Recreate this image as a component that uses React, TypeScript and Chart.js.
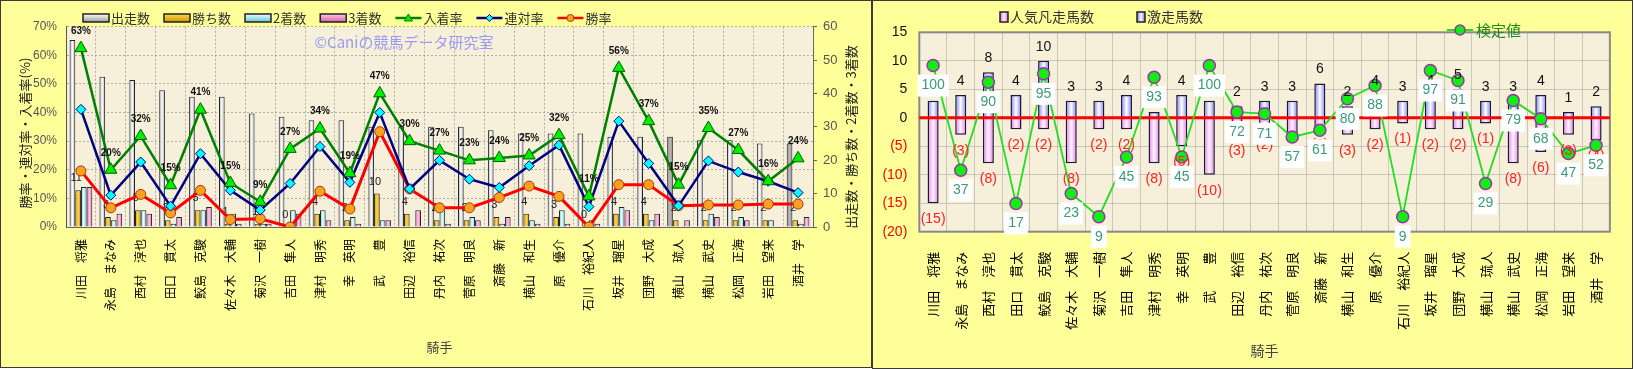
import React, { useEffect, useRef } from 'react';
import { Chart, registerables } from 'chart.js';
Chart.register(...registerables);

const JP = "'Noto Sans CJK JP', 'Noto Sans', sans-serif";
const NUM = "'Liberation Sans', Arial, sans-serif";

const jockeys = [
  '川田　将雅', '永島　まなみ', '西村　淳也', '田口　貫太', '鮫島　克駿', '佐々木　大輔', '菊沢　一樹',
  '吉田　隼人', '津村　明秀', '幸　英明', '武　　豊', '田辺　裕信', '丹内　祐次', '菅原　明良',
  '斎藤　新', '横山　和生', '原　優介', '石川　裕紀人', '坂井　瑠星', '団野　大成', '横山　琉人',
  '横山　武史', '松岡　正海', '岩田　望来', '酒井　学',
];

// left chart: counts
const starts = [56, 45, 44, 41, 39, 39, 34, 33, 32, 32, 30, 30, 30, 30, 29, 28, 28, 28, 27, 27, 27, 26, 26, 25, 25];
const wins = [11, 3, 5, 2, 5, 1, 1, 0, 4, 2, 10, 4, 2, 2, 3, 4, 3, 0, 4, 4, 2, 2, 2, 2, 2];
const seconds = [12, 2, 5, 1, 5, 4, 1, 5, 5, 3, 2, 0, 5, 3, 1, 2, 5, 2, 6, 2, 0, 4, 3, 2, 1];
const thirds = [12, 4, 4, 3, 6, 1, 1, 4, 2, 1, 2, 5, 1, 2, 3, 1, 1, 1, 5, 4, 2, 3, 2, 0, 3];
// left chart: rates (%)
const placeRate = [62.5, 20.0, 31.8, 14.6, 41.0, 15.4, 8.8, 27.3, 34.4, 18.8, 46.7, 30.0, 26.7, 23.3, 24.1, 25.0, 32.1, 10.7, 55.6, 37.0, 14.8, 34.6, 26.9, 16.0, 24.0];
const rentaiRate = [41.1, 11.1, 22.7, 7.3, 25.6, 12.8, 5.9, 15.2, 28.1, 15.6, 40.0, 13.3, 23.3, 16.7, 13.8, 21.4, 28.6, 7.1, 37.0, 22.2, 7.4, 23.1, 19.2, 16.0, 12.0];
const winRate = [19.6, 6.7, 11.4, 4.9, 12.8, 2.6, 2.9, 0.0, 12.5, 6.3, 33.3, 13.3, 6.7, 6.7, 10.3, 14.3, 10.7, 0.0, 14.8, 14.8, 7.4, 7.7, 7.7, 8.0, 8.0];
const placeLabels = ['63%', '20%', '32%', '15%', '41%', '15%', '9%', '27%', '34%', '19%', '47%', '30%', '27%', '23%', '24%', '25%', '32%', '11%', '56%', '37%', '15%', '35%', '27%', '16%', '24%'];
const grayStartIdx = [20, 24];

// right chart
const popularFail = [-15, -3, -8, -2, -2, -8, -2, -2, -8, -5, -10, -3, -2, -4, -2, -3, -2, -1, -2, -2, -1, -8, -6, -3, -4];
const gekisou = [3, 4, 8, 4, 10, 3, 3, 4, 1, 4, 3, 2, 3, 3, 6, 2, 4, 3, 4, 5, 3, 3, 4, 1, 2];
const kentei = [100, 37, 90, 17, 95, 23, 9, 45, 93, 45, 100, 72, 71, 57, 61, 80, 88, 9, 97, 91, 29, 79, 68, 47, 52];

function hGrad(ctx: CanvasRenderingContext2D, x0: number, w: number, edge: string, mid: string) {
  const g = ctx.createLinearGradient(x0, 0, x0 + w, 0);
  g.addColorStop(0, edge);
  g.addColorStop(0.5, mid);
  g.addColorStop(1, edge);
  return g;
}

const CAT_PCT_L = 0.76;

function leftBarBg(k: number, edgeFn: (i: number) => string, midFn: (i: number) => string) {
  return (c: any) => {
    if (c.type !== 'data') return edgeFn(0);
    const ch = c.chart;
    const xs = ch.scales && ch.scales.x;
    const i = c.dataIndex;
    if (!xs || !ch.chartArea || !isFinite(xs.width)) return edgeFn(i);
    const cw = xs.width / jockeys.length;
    const center = xs.getPixelForValue(i);
    const group = cw * CAT_PCT_L;
    const bw = group / 4;
    const x0 = center - group / 2 + k * bw;
    return hGrad(ch.ctx, x0, bw, edgeFn(i), midFn(i));
  };
}

function drawRotText(ctx: CanvasRenderingContext2D, text: string, x: number, y: number, font: string, color: string) {
  ctx.save();
  ctx.translate(x, y);
  ctx.rotate(-Math.PI / 2);
  ctx.font = font;
  ctx.fillStyle = color;
  ctx.textAlign = 'center';
  ctx.textBaseline = 'middle';
  ctx.fillText(text, 0, 0);
  ctx.restore();
}

function LeftChart() {
  const ref = useRef<HTMLCanvasElement>(null);
  useEffect(() => {
    const canvas = ref.current!;
    const legendItems = [
      { t: '出走数', kind: 'bar', edge: '#9a9a9a', mid: '#ffffff' },
      { t: '勝ち数', kind: 'bar', edge: '#c99400', mid: '#ffd84a' },
      { t: '2着数', kind: 'bar', edge: '#6cc4d4', mid: '#e8ffff' },
      { t: '3着数', kind: 'bar', edge: '#d860a8', mid: '#ffc8e8' },
      { t: '入着率', kind: 'line', color: '#008000', pt: 'tri', fill: '#00ee00' },
      { t: '連対率', kind: 'line', color: '#000080', pt: 'dia', fill: '#00ffff' },
      { t: '勝率', kind: 'line', color: '#ff0000', pt: 'cir', fill: '#ffa020' },
    ];
    const plugin = {
      id: 'leftDeco',
      beforeDraw(chart: any) {
        const { ctx, chartArea: a } = chart;
        ctx.save();
        ctx.fillStyle = '#F6EFDA';
        ctx.fillRect(a.left, a.top, a.width, a.height);
        ctx.restore();
      },
      beforeDatasetsDraw(chart: any) {
        const { ctx } = chart;
        ctx.save();
        ctx.font = `15px ${JP}`;
        ctx.fillStyle = '#9a9cf4';
        ctx.textAlign = 'center';
        ctx.textBaseline = 'middle';
        ctx.fillText('©Caniの競馬データ研究室', 403, 41);
        ctx.restore();
      },
      afterDatasetDraw(chart: any, args: any) {
        if (args.index !== 0) return;
        const { ctx } = chart;
        const meta = chart.getDatasetMeta(1);
        ctx.save();
        ctx.font = `11px ${NUM}`;
        ctx.fillStyle = '#222';
        ctx.textAlign = 'center';
        ctx.textBaseline = 'middle';
        meta.data.forEach((el: any, i: number) => {
          ctx.fillText(String(wins[i]), el.x - 2, el.y - 12);
        });
        ctx.restore();
      },
      afterDatasetsDraw(chart: any) {
        const { ctx } = chart;
        const meta = chart.getDatasetMeta(4);
        ctx.save();
        ctx.font = `bold 10px ${NUM}`;
        ctx.fillStyle = '#111';
        ctx.textAlign = 'center';
        ctx.textBaseline = 'middle';
        meta.data.forEach((el: any, i: number) => {
          ctx.fillText(placeLabels[i], el.x, el.y - 17);
        });
        ctx.restore();
      },
      afterDraw(chart: any) {
        const { ctx } = chart;
        drawRotText(ctx, '勝率・連対率・入着率(%)', 24, 132, `13px ${JP}`, '#222');
        drawRotText(ctx, '出走数・勝ち数・2着数・3着数', 850, 136, `13px ${JP}`, '#222');
        ctx.save();
        ctx.font = `13px ${JP}`;
        ctx.textBaseline = 'middle';
        ctx.textAlign = 'left';
        let x = 82;
        const y = 17;
        legendItems.forEach((it: any) => {
          if (it.kind === 'bar') {
            const g = ctx.createLinearGradient(0, y - 4, 0, y + 4);
            g.addColorStop(0, it.mid);
            g.addColorStop(1, it.edge);
            ctx.fillStyle = g;
            ctx.fillRect(x, y - 4, 26, 8);
            ctx.strokeStyle = '#222';
            ctx.lineWidth = 1.5;
            ctx.strokeRect(x, y - 4, 26, 8);
          } else {
            ctx.strokeStyle = it.color;
            ctx.lineWidth = 2.5;
            ctx.beginPath();
            ctx.moveTo(x, y);
            ctx.lineTo(x + 26, y);
            ctx.stroke();
            ctx.fillStyle = it.fill;
            ctx.lineWidth = 1;
            ctx.beginPath();
            const cx = x + 13;
            if (it.pt === 'tri') {
              ctx.moveTo(cx, y - 4); ctx.lineTo(cx + 4, y + 3); ctx.lineTo(cx - 4, y + 3); ctx.closePath();
            } else if (it.pt === 'dia') {
              ctx.moveTo(cx, y - 3.5); ctx.lineTo(cx + 3.5, y); ctx.lineTo(cx, y + 3.5); ctx.lineTo(cx - 3.5, y); ctx.closePath();
            } else {
              ctx.arc(cx, y, 3.5, 0, Math.PI * 2);
            }
            ctx.fill();
            ctx.strokeStyle = it.pt === 'cir' ? '#a04000' : it.color;
            ctx.stroke();
          }
          ctx.fillStyle = '#333';
          ctx.fillText(it.t, x + 28, y);
          x += 28 + ctx.measureText(it.t).width + 14;
        });
        ctx.restore();
      },
    };

    const chart = new Chart(canvas, {
      type: 'bar',
      data: {
        labels: jockeys,
        datasets: [
          {
            type: 'bar', label: '出走数', data: starts, yAxisID: 'y1', order: 1,
            backgroundColor: leftBarBg(0, (i) => (grayStartIdx.includes(i) ? '#7a7a7a' : '#a0a0a0'), (i) => (grayStartIdx.includes(i) ? '#bdbdbd' : '#ffffff')),
            borderColor: '#222', borderWidth: 1,
            categoryPercentage: CAT_PCT_L, barPercentage: 1,
          },
          {
            type: 'bar', label: '勝ち数', data: wins, yAxisID: 'y1', order: 1,
            backgroundColor: leftBarBg(1, () => '#c99400', () => '#ffd84a'),
            borderColor: '#222', borderWidth: 1,
            categoryPercentage: CAT_PCT_L, barPercentage: 1,
          },
          {
            type: 'bar', label: '2着数', data: seconds, yAxisID: 'y1', order: 1,
            backgroundColor: leftBarBg(2, () => '#6cc4d4', () => '#e8ffff'),
            borderColor: '#222', borderWidth: 1,
            categoryPercentage: CAT_PCT_L, barPercentage: 1,
          },
          {
            type: 'bar', label: '3着数', data: thirds, yAxisID: 'y1', order: 1,
            backgroundColor: leftBarBg(3, () => '#d860a8', () => '#ffc8e8'),
            borderColor: '#222', borderWidth: 1,
            categoryPercentage: CAT_PCT_L, barPercentage: 1,
          },
          {
            type: 'line', label: '入着率', data: placeRate, yAxisID: 'y', order: 0,
            borderColor: '#008000', borderWidth: 2.5, tension: 0,
            pointStyle: 'triangle', pointRadius: 7, pointBackgroundColor: '#00ee00', pointBorderColor: '#006000', pointBorderWidth: 1,
          },
          {
            type: 'line', label: '連対率', data: rentaiRate, yAxisID: 'y', order: 0,
            borderColor: '#000080', borderWidth: 2.5, tension: 0,
            pointStyle: 'rectRot', pointRadius: 5, pointBackgroundColor: '#00ffff', pointBorderColor: '#000080', pointBorderWidth: 1,
          },
          {
            type: 'line', label: '勝率', data: winRate, yAxisID: 'y', order: 0,
            borderColor: '#ff0000', borderWidth: 3, tension: 0,
            pointStyle: 'circle', pointRadius: 5, pointBackgroundColor: '#ffa020', pointBorderColor: '#a04000', pointBorderWidth: 1,
          },
        ],
      } as any,
      options: {
        responsive: false,
        animation: false,
        layout: { padding: { top: 25.7, left: 0, right: 0, bottom: 0 } },
        plugins: { legend: { display: false }, tooltip: { enabled: false } },
        scales: {
          x: {
            grid: { color: 'rgba(120,120,120,0.55)', drawTicks: false },
            border: { display: true, color: '#666', dash: [2, 2] } as any,
            ticks: { autoSkip: false, minRotation: 90, maxRotation: 90, padding: 12, color: '#000', font: { family: JP, size: 12 } },
            title: { display: true, text: '騎手', color: '#444', font: { family: JP, size: 13 }, padding: { top: 0, bottom: 12 } },
            afterFit: (s: any) => { s.height = 140; },
          },
          y: {
            position: 'left', min: 0, max: 70,
            grid: { color: 'rgba(120,120,120,0.55)', drawTicks: false },
            border: { display: true, color: '#555', dash: [2, 2] } as any,
            ticks: { stepSize: 10, padding: 9, color: '#555', font: { family: NUM, size: 12 }, callback: (v: any) => `${v}%` },
            title: { display: false },
            afterFit: (s: any) => { s.width = 65; },
          },
          y1: {
            position: 'right', min: 0, max: 60,
            grid: { drawOnChartArea: false, drawTicks: true, tickLength: 4, color: '#666' },
            border: { display: true, color: '#666' },
            ticks: { stepSize: 10, padding: 6, color: '#555', font: { family: NUM, size: 13 } },
            title: { display: false },
            afterFit: (s: any) => { s.width = 58; },
          },
        },
      } as any,
      plugins: [plugin as any],
    });
    return () => chart.destroy();
  }, []);
  return <canvas ref={ref} width={870} height={366} style={{ display: 'block', width: 870, height: 366 }} />;
}

function rightBarBg(edge: string, mid: string) {
  return (c: any) => {
    if (c.type !== 'data') return edge;
    const ch = c.chart;
    const xs = ch.scales && ch.scales.x;
    if (!xs || !ch.chartArea || !isFinite(xs.width)) return edge;
    const cw = xs.width / jockeys.length;
    const bw = cw * 0.8 * 0.5;
    const x0 = xs.getPixelForValue(c.dataIndex) - bw / 2;
    return hGrad(ch.ctx, x0, bw, edge, mid);
  };
}

function RightChart() {
  const ref = useRef<HTMLCanvasElement>(null);
  useEffect(() => {
    const canvas = ref.current!;
    const plugin = {
      id: 'rightDeco',
      beforeDraw(chart: any) {
        const { ctx, chartArea: a } = chart;
        ctx.save();
        ctx.fillStyle = '#F6EFDA';
        ctx.fillRect(a.left, a.top, a.width, a.height);
        ctx.restore();
      },
      beforeDatasetsDraw(chart: any) {
        const { ctx, chartArea: a } = chart;
        ctx.save();
        ctx.strokeStyle = '#8a8a8a';
        ctx.lineWidth = 2;
        ctx.strokeRect(a.left, a.top, a.width, a.height);
        ctx.restore();
      },
      beforeDatasetDraw(chart: any, args: any) {
        if (args.index !== 2) return;
        const { ctx, chartArea: a, scales } = chart;
        const y0 = scales.y.getPixelForValue(0);
        ctx.save();
        ctx.strokeStyle = '#ff0000';
        ctx.lineWidth = 3;
        ctx.beginPath();
        ctx.moveTo(a.left, y0);
        ctx.lineTo(a.right, y0);
        ctx.stroke();
        ctx.restore();
      },
      afterDatasetsDraw(chart: any) {
        const { ctx } = chart;
        const mPos = chart.getDatasetMeta(0);
        const mNeg = chart.getDatasetMeta(1);
        const mLine = chart.getDatasetMeta(2);
        ctx.save();
        ctx.font = `14px ${NUM}`;
        ctx.textAlign = 'center';
        ctx.textBaseline = 'middle';
        ctx.fillStyle = '#111';
        mPos.data.forEach((el: any, i: number) => {
          ctx.fillText(String(gekisou[i]), el.x, el.y - 14);
        });
        ctx.fillStyle = '#ff2020';
        mNeg.data.forEach((el: any, i: number) => {
          ctx.fillText(`(${-popularFail[i]})`, el.x, el.y + 16);
        });
        ctx.font = `14px ${NUM}`;
        mLine.data.forEach((el: any, i: number) => {
          const t = String(kentei[i]);
          const w = ctx.measureText(t).width + 8;
          const cy = el.y + 20;
          ctx.fillStyle = '#ffffff';
          ctx.fillRect(el.x - w / 2, cy - 11, w, 22);
          ctx.fillStyle = '#3a9a7a';
          ctx.fillText(t, el.x, cy);
        });
        ctx.restore();
      },
      afterDraw(chart: any) {
        const { ctx } = chart;
        ctx.save();
        ctx.textBaseline = 'middle';
        ctx.textAlign = 'left';
        ctx.font = `14px ${JP}`;
        const items = [
          { t: '人気凡走馬数', x: 127, edge: '#e070e0', mid: '#fff0ff' },
          { t: '激走馬数', x: 264, edge: '#7070ff', mid: '#ffffff' },
        ];
        items.forEach((it) => {
          ctx.fillStyle = hGrad(ctx, it.x, 8, it.edge, it.mid);
          ctx.fillRect(it.x, 11, 8, 10);
          ctx.strokeStyle = '#222';
          ctx.lineWidth = 1.5;
          ctx.strokeRect(it.x, 11, 8, 10);
          ctx.fillStyle = '#333';
          ctx.fillText(it.t, it.x + 10, 16);
        });
        const ly = 29;
        ctx.strokeStyle = '#22dd22';
        ctx.lineWidth = 2;
        ctx.beginPath();
        ctx.moveTo(574, ly);
        ctx.lineTo(600, ly);
        ctx.stroke();
        ctx.fillStyle = '#11ee11';
        ctx.strokeStyle = '#9933aa';
        ctx.lineWidth = 1.5;
        ctx.beginPath();
        ctx.arc(587, ly, 5, 0, Math.PI * 2);
        ctx.fill();
        ctx.stroke();
        ctx.font = `15px ${JP}`;
        ctx.fillStyle = '#1a8a1a';
        ctx.fillText('検定値', 603, ly);
        ctx.restore();
      },
    };

    const chart = new Chart(canvas, {
      type: 'bar',
      data: {
        labels: jockeys,
        datasets: [
          {
            type: 'bar', label: '激走馬数', data: gekisou, yAxisID: 'y', order: 1, stack: 's',
            backgroundColor: rightBarBg('#7878ff', '#ffffff'), borderColor: '#1a1a3a', borderWidth: 1.5,
            categoryPercentage: 0.8, barPercentage: 0.5,
          },
          {
            type: 'bar', label: '人気凡走馬数', data: popularFail, yAxisID: 'y', order: 1, stack: 's',
            backgroundColor: rightBarBg('#e878e8', '#fff4ff'), borderColor: '#1a1a3a', borderWidth: 1.5,
            categoryPercentage: 0.8, barPercentage: 0.5,
          },
          {
            type: 'line', label: '検定値', data: kentei, yAxisID: 'y2', order: 0,
            borderColor: '#22dd22', borderWidth: 1.8, tension: 0,
            pointStyle: 'circle', pointRadius: 6, pointBackgroundColor: '#11ee11', pointBorderColor: '#9933aa', pointBorderWidth: 1.5,
          },
        ],
      } as any,
      options: {
        responsive: false,
        animation: false,
        layout: { padding: { top: 31.3, left: 0, right: 17, bottom: 0 } },
        plugins: { legend: { display: false }, tooltip: { enabled: false } },
        scales: {
          x: {
            stacked: true,
            grid: { color: 'rgba(150,150,150,0.45)', drawTicks: false },
            border: { display: false },
            ticks: { autoSkip: false, minRotation: 90, maxRotation: 90, padding: 20, color: '#000', font: { family: JP, size: 13 } },
            title: { display: true, text: '騎手', color: '#444', font: { family: JP, size: 14 }, padding: { top: 0, bottom: 9 } },
            afterFit: (s: any) => { s.height = 136.3; },
          },
          y: {
            stacked: true, min: -20, max: 15,
            grid: { color: 'rgba(150,150,150,0.45)', drawTicks: false },
            border: { display: false },
            ticks: {
              stepSize: 5, padding: 12, font: { family: NUM, size: 14 },
              color: (c: any) => (c.tick && c.tick.value < 0 ? '#ff0000' : '#111'),
              callback: (v: any) => (v < 0 ? `(${-v})` : `${v}`),
            },
            afterFit: (s: any) => { s.width = 46.3; },
          },
          y2: { display: false, min: 0, max: 120 },
        },
      } as any,
      plugins: [plugin as any],
    });
    return () => chart.destroy();
  }, []);
  return <canvas ref={ref} width={759} height={367} style={{ display: 'block', width: 759, height: 367 }} />;
}

export default function App() {
  return (
    <div style={{ position: 'absolute', left: 0, top: 0, width: 1634, height: 369, background: '#ffffff' }}>
      <div style={{ position: 'absolute', left: 0, top: 0, width: 872, height: 368, boxSizing: 'border-box', border: '1px solid #3a3a3a', background: '#FFFF99' }}>
        <LeftChart />
      </div>
      <div style={{ position: 'absolute', left: 872, top: 0, width: 761, height: 369, boxSizing: 'border-box', border: '1px solid #3a3a3a', background: '#FFFF99' }}>
        <RightChart />
      </div>
    </div>
  );
}
